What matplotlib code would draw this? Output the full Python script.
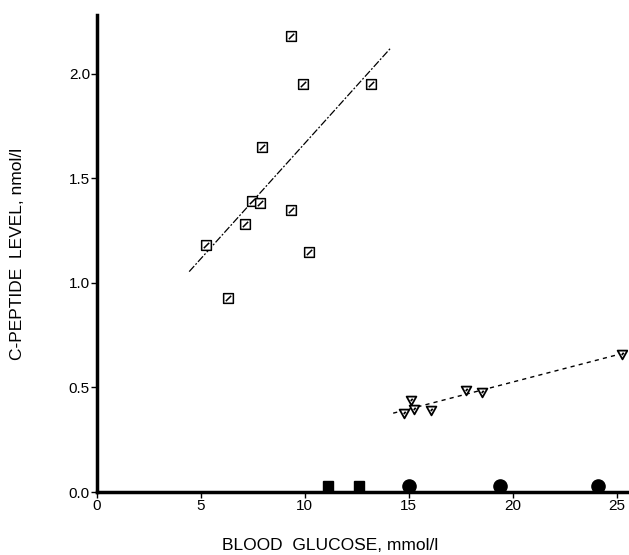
import numpy as np
from matplotlib import pyplot as plt
from matplotlib.path import Path

# open squares (hatched) - group 1
sq_x = [9.33, 9.9, 13.2, 7.93, 7.45, 7.84, 9.33, 7.1, 5.24, 10.2, 6.3]
sq_y = [2.18, 1.95, 1.95, 1.65, 1.39, 1.38, 1.35, 1.28, 1.18, 1.15, 0.93]

# open triangles - group 2
tri_x = [15.13, 14.76, 15.24, 16.09, 17.77, 18.54, 25.25]
tri_y = [0.44, 0.38, 0.395, 0.39, 0.49, 0.48, 0.66]

# filled markers on the axis
fsq_x = [11.1, 12.6]
fsq_y = [0.03, 0.03]
dot_x = [15.0, 19.4, 24.1]
dot_y = [0.03, 0.03, 0.03]

# regression lines (end points)
line1_x = [4.44, 14.1]
line1_y = [1.054, 2.12]
line2_x = [14.25, 25.6]
line2_y = [0.377, 0.671]

plt.rcParams['font.family'] = ['Liberation Sans', 'DejaVu Sans']

# custom markers
sq_marker = Path([(-1, -1), (1, -1), (1, 1), (-1, 1), (-1, -1),
                  (-0.55, -0.55), (0.55, 0.55)],
                 [Path.MOVETO, Path.LINETO, Path.LINETO, Path.LINETO, Path.CLOSEPOLY,
                  Path.MOVETO, Path.LINETO])
tri_marker = Path([(-1, 0.8), (1, 0.8), (0, -1), (-1, 0.8),
                   (-0.15, -0.1), (0.25, 0.35)],
                  [Path.MOVETO, Path.LINETO, Path.LINETO, Path.CLOSEPOLY,
                   Path.MOVETO, Path.LINETO])

fig = plt.figure(figsize=(6.29, 5.55), dpi=100)
ax = fig.add_axes([0.154, 0.1135, 0.843, 0.859])

ax.plot(line1_x, line1_y, color='black', lw=0.9, dashes=(6, 1.5, 1.5, 1.5))
ax.plot(line2_x, line2_y, color='black', lw=1.0, dashes=(3, 3))

ax.plot(sq_x, sq_y, ls='none', marker=sq_marker, ms=7, mfc='white', mec='black', mew=1.1)
ax.plot(tri_x, tri_y, ls='none', marker=tri_marker, ms=7, mfc='white', mec='black', mew=1.3)
ax.plot(fsq_x, fsq_y, ls='none', marker='s', ms=7.5, color='black')
ax.plot(dot_x, dot_y, ls='none', marker='o', ms=9.5, color='black')

ax.set_xlim(0, 25.5)
ax.set_ylim(0, 2.28)
ax.set_xticks([0, 5, 10, 15, 20, 25])
ax.set_yticks([0.0, 0.5, 1.0, 1.5, 2.0])
ax.set_yticklabels(['0.0', '0.5', '1.0', '1.5', '2.0'])

for s in ['top', 'right']:
    ax.spines[s].set_visible(False)
for s in ['left', 'bottom']:
    ax.spines[s].set_linewidth(2.5)
ax.tick_params(direction='out', length=4, width=1, labelsize=11, pad=1)

ax.set_xlabel('BLOOD  GLUCOSE, mmol/l', fontsize=12.5)
ax.xaxis.set_label_coords(0.44, -0.097)
ax.set_ylabel('C-PEPTIDE  LEVEL, nmol/l', fontsize=12.5)
ax.yaxis.set_label_coords(-0.136, 0.5)

fig.savefig('out.png', dpi=100)
